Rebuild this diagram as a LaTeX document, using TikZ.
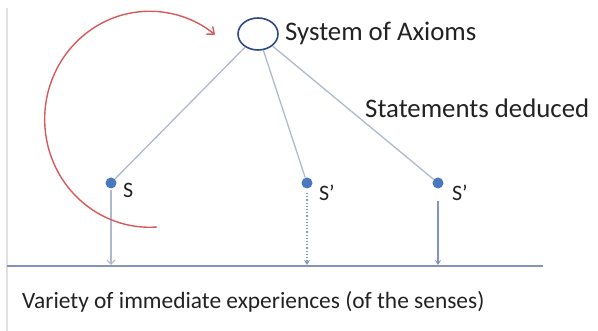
\documentclass[tikz,border=0pt]{standalone}
\usepackage{fontspec}
\setmainfont{Carlito}
\usetikzlibrary{arrows.meta,shapes.geometric}
\definecolor{axiomblue}{HTML}{2E4A86}
\definecolor{dotblue}{HTML}{4A78BE}
\definecolor{linkgrey}{HTML}{AEB8CE}
\definecolor{floorblue}{HTML}{8494BC}
\definecolor{loopred}{HTML}{D65A5A}
\definecolor{textgrey}{HTML}{222222}
\tikzset{
  x=1pt, y=-1pt,
  axiom/.style={draw=axiomblue, line width=1.6pt, ellipse, minimum width=40pt, minimum height=32pt, inner sep=0pt},
  stmt/.style={circle, fill=dotblue, minimum size=11pt, inner sep=0pt},
  lbl/.style={text=textgrey, font=\fontsize{26.8}{30}\selectfont, inner sep=0pt, anchor=west},
  slbl/.style={lbl, font=\fontsize{22}{26}\selectfont},
  link/.style={draw=linkgrey, line width=1.3pt},
}
\begin{document}
\begin{tikzpicture}
  \useasboundingbox (0,0) rectangle (598,331);
  % faint left margin rule
  \draw[black!12, line width=1.5pt] (7,8) -- (7,331);

  % axioms and the statements deduced from them
  \node[axiom] (ax) at (258,34) {};
  \node[lbl] (axl) at (285,33) {System of Axioms};
  \node[lbl] (ded) at (365,108) {Statements deduced};

  \node[stmt] (s1) at (111,183) {};
  \node[stmt] (s2) at (307,183) {};
  \node[stmt] (s3) at (438,183) {};
  \node[slbl] (l1) at (123,190) {S};
  \node[slbl] (l2) at (319,193) {S’};
  \node[slbl] (l3) at (452,193) {S’};

  \draw[link] (ax) -- (s1);
  \draw[link] (ax) -- (s2);
  \draw[link] (ax) -- (s3);

  % ground line of experience
  \coordinate (gl) at (7,266);
  \coordinate (gr) at (543,266);
  \draw[floorblue, line width=2pt] (gl) -- (gr);
  \node[lbl, font=\fontsize{23.4}{28}\selectfont] (exp) at (22,302) {Variety of immediate experiences (of the senses)};

  % links down to experience
  \coordinate (e1) at (111,265);
  \coordinate (e2) at (307,265);
  \coordinate (e3) at (438,265);
  \draw[linkgrey, line width=1.2pt, -{Straight Barb[length=4pt,width=8pt]}] (111,190) -- (e1);
  \draw[floorblue, line width=1.2pt, dotted, -{Stealth[length=5pt,width=6pt]}] (307,193) -- (e2);
  \draw[floorblue, line width=2pt, -{Stealth[length=5pt,width=6pt]}] (438,201) -- (e3);

  % intuitive return from experience to axioms
  \draw[loopred, line width=1.4pt, -{Straight Barb[length=6pt,width=10pt]}]
    (157,227) arc[start angle=86, end angle=308.5, x radius=105, y radius=108];
\end{tikzpicture}
\end{document}
